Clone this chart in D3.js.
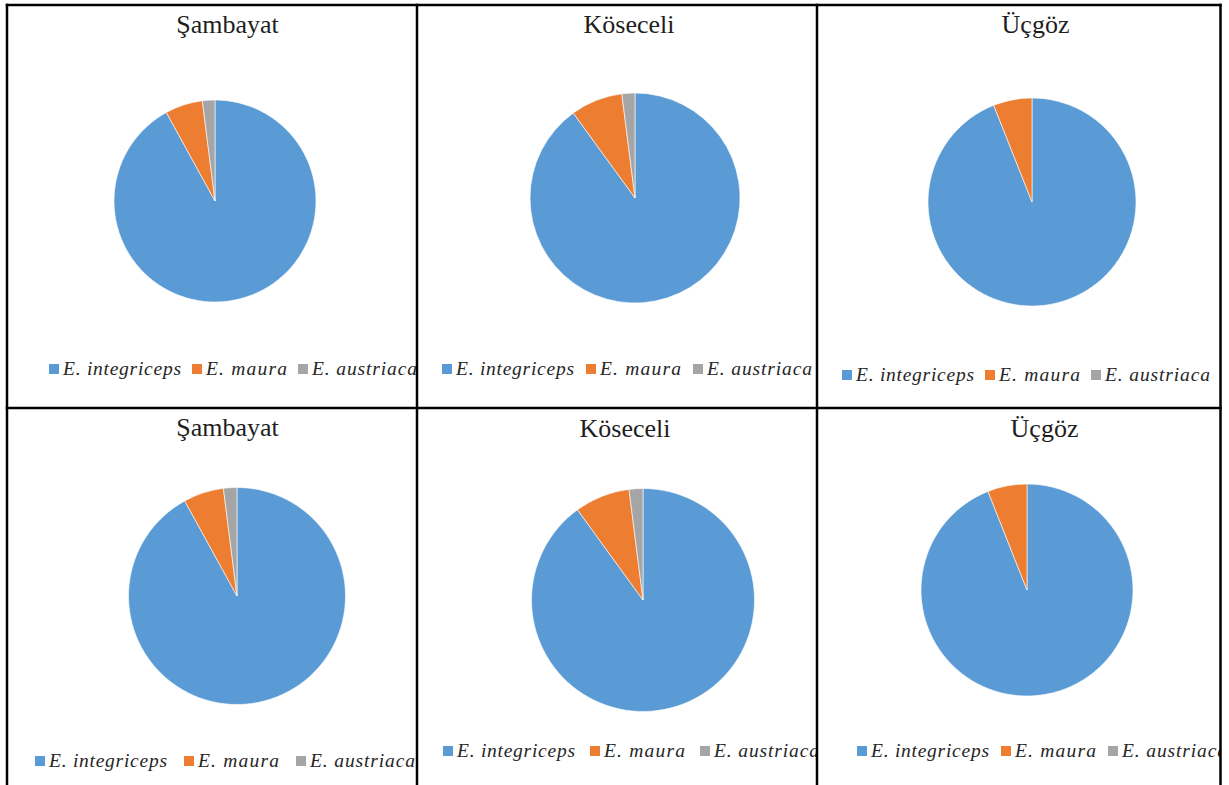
<!DOCTYPE html>
<html lang="tr">
<head>
<meta charset="UTF-8">
<title>pies</title>
<script src="https://cdn.jsdelivr.net/npm/d3@7"></script>
<style>
  html, body { margin: 0; padding: 0; background: #fff; }
  svg { display: block; }
</style>
</head>
<body>
<svg></svg>
<script>
// data (percent of individuals)
var sites = ['Şambayat', 'Köseceli', 'Üçgöz', 'Şambayat', 'Köseceli', 'Üçgöz'];
var species = ['E. integriceps', 'E. maura', 'E. austriaca'];
var integriceps = [92, 90, 94, 92, 90, 94];
var maura = [6, 8, 6, 6, 8, 6];
var austriaca = [2, 2, 0, 2, 2, 0];

var colors = ['#5b9bd5', '#ed7d31', '#a5a5a5'];

// where each panel sits on the page
var colX = [7, 417, 817, 1220.5];
var rowY = [5, 408, 790];
var layout = [
	{cx: 215, cy: 201, r: 101, tx: 227.5, ty: 33, lx: 49, ly: 375, gap: 11},
	{cx: 635, cy: 198, r: 105, tx: 629, ty: 33, lx: 442, ly: 375, gap: 12},
	{cx: 1032, cy: 202, r: 104, tx: 1035.5, ty: 33, lx: 842, ly: 381, gap: 11},
	{cx: 237, cy: 596, r: 108.5, tx: 227.5, ty: 436, lx: 35, ly: 767, gap: 17},
	{cx: 643, cy: 600, r: 111.5, tx: 625, ty: 436.5, lx: 443, ly: 757, gap: 15},
	{cx: 1027, cy: 590, r: 106, tx: 1044.5, ty: 436.5, lx: 857, ly: 757, gap: 12}
];
var textLen = [118, 81, 105];

var width = 1229, height = 785;

var svg = d3.select('svg')
	.attr('width', width)
	.attr('height', height);

var color = d3.scaleOrdinal().domain(species).range(colors);

var pie = d3.pie()
	.sort(null)
	.value(function (d) { return d.value; });

var defs = svg.append('defs');

sites.forEach(function (site, i) {
	var L = layout[i];
	var col = i % 3, row = Math.floor(i / 3);

	defs.append('clipPath')
		.attr('id', 'cell' + i)
		.append('rect')
		.attr('x', colX[col])
		.attr('y', rowY[row])
		.attr('width', colX[col + 1] - colX[col])
		.attr('height', rowY[row + 1] - rowY[row]);

	var g = svg.append('g').attr('clip-path', 'url(#cell' + i + ')');

	var vals = [integriceps[i], maura[i], austriaca[i]].map(function (v, k) {
		return {name: species[k], value: v};
	});

	var arc = d3.arc().innerRadius(0).outerRadius(L.r);

	g.append('g')
		.attr('transform', 'translate(' + L.cx + ',' + L.cy + ')')
		.selectAll('path')
		.data(pie(vals).filter(function (d) { return d.data.value > 0; }))
		.enter()
		.append('path')
		.attr('d', arc)
		.attr('fill', function (d) { return color(d.data.name); })
		.attr('stroke', '#fff')
		.attr('stroke-width', 0.6);

	g.append('text')
		.attr('x', L.tx)
		.attr('y', L.ty)
		.attr('text-anchor', 'middle')
		.style('font-family', '"Liberation Serif", "Times New Roman", serif')
		.style('font-size', '26px')
		.attr('fill', '#1e1e1e')
		.text(site);

	// legend
	var x = L.lx;
	species.forEach(function (s, k) {
		g.append('rect')
			.attr('x', x)
			.attr('y', L.ly - 11)
			.attr('width', 10)
			.attr('height', 10)
			.attr('fill', color(s));
		g.append('text')
			.attr('x', x + 14)
			.attr('y', L.ly)
			.attr('textLength', textLen[k])
			.attr('lengthAdjust', 'spacing')
			.style('font-family', '"Liberation Serif", "Times New Roman", serif')
			.style('font-style', 'italic')
			.style('font-size', '19.5px')
			.attr('fill', '#262626')
			.text(s);
		x += 14 + textLen[k] + L.gap;
	});
});

// table grid
var grid = svg.append('g')
	.attr('stroke', '#000')
	.attr('stroke-width', 2.5);

colX.forEach(function (x) {
	grid.append('line')
		.attr('x1', x).attr('x2', x)
		.attr('y1', rowY[0] - 1.25).attr('y2', height);
});
[rowY[0], rowY[1]].forEach(function (y) {
	grid.append('line')
		.attr('x1', colX[0] - 1.25).attr('x2', colX[3] + 1.25)
		.attr('y1', y).attr('y2', y);
});
</script>
</body>
</html>
